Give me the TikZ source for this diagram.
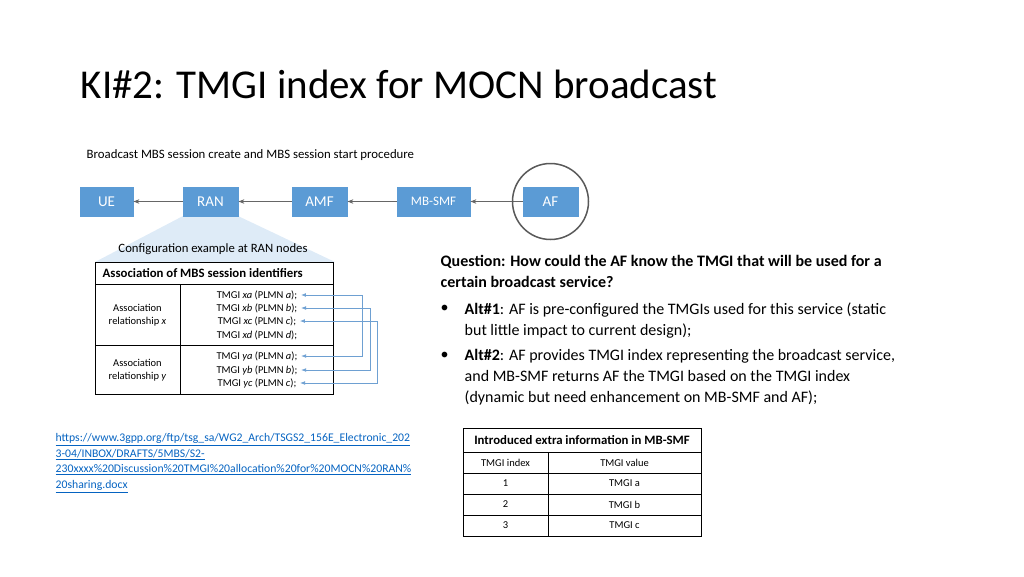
\documentclass[tikz,border=0pt]{standalone}
\usepackage{fontspec}
\setmainfont{Carlito}
\usepackage{tikz}
\usetikzlibrary{positioning,arrows.meta}
\definecolor{boxblue}{RGB}{91,155,213}
\definecolor{lineblue}{RGB}{110,160,210}
\definecolor{fanblue}{RGB}{222,235,247}
\definecolor{linkblue}{RGB}{5,99,193}
\tikzset{every picture/.style={line width=0.75pt},
  nf/.style={draw=boxblue,fill=boxblue,text=white,minimum height=29pt,font=\fontsize{15}{15}\selectfont},
  flow/.style={draw=gray!80!black,line width=1.2pt,-{Stealth[length=6pt]}},
  cell/.style={font=\fontsize{10.5}{12.5}\selectfont,align=center},
  para/.style={anchor=north west,align=left,font=\fontsize{16}{21}\selectfont},
  link/.style={lineblue,line width=0.8pt,-{Latex[length=5pt]}}}
\begin{document}
\begin{tikzpicture}[x=1pt,y=-1pt]
\useasboundingbox (0,0) rectangle (1024,576);
\node[anchor=west,font=\fontsize{41}{41}\selectfont] (title) at (77,84) {KI\#2: TMGI index for MOCN broadcast};
\node[anchor=west,font=\fontsize{12.8}{12.8}\selectfont] (proc) at (83,155) {Broadcast MBS session create and MBS session start procedure};
%
\fill[fanblue] (183,216) -- (238,216) -- (335,262) -- (95,262) -- cycle;
\node[nf,minimum width=53pt] (ue) at (106.5,201.5) {UE};
\node[nf,minimum width=55pt] (ran) at (210.5,201.5) {RAN};
\node[nf,minimum width=55pt] (amf) at (319.5,201.5) {AMF};
\node[nf,minimum width=73pt,font=\fontsize{13}{13}\selectfont] (mbsmf) at (433.5,201.5) {MB-SMF};
\node[nf,minimum width=55pt] (af) at (550.5,201.5) {AF};
\draw[flow] (ran) -- (ue);
\draw[flow] (amf) -- (ran);
\draw[flow] (mbsmf) -- (amf);
\draw[flow] (af) -- (mbsmf);
\draw[gray!70!black,line width=1.5pt] (af) circle (38);
%
\node[font=\fontsize{12.7}{12.7}\selectfont] (conf) at (213,249) {Configuration example at RAN nodes};
\draw[line width=1pt] (95,262) rectangle (333,394);
\draw (95,284) -- (333,284);
\draw (95,345) -- (333,345);
\draw (180,284) -- (180,394);
\node[anchor=west,font=\bfseries\fontsize{12.8}{12.8}\selectfont] (assoc) at (99,273) {Association of MBS session identifiers};
\node[cell] (relx) at (137.5,315) {Association\\relationship \emph{x}};
\node[cell] (rely) at (137.5,370) {Association\\relationship \emph{y}};
\node[cell] (xa) at (257,295) {TMGI \emph{xa} (PLMN \emph{a});};
\node[cell] (xb) at (257,308) {TMGI \emph{xb} (PLMN \emph{b});};
\node[cell] (xc) at (257,321) {TMGI \emph{xc} (PLMN \emph{c});};
\node[cell] (xd) at (257,335) {TMGI \emph{xd} (PLMN \emph{d});};
\node[cell] (ya) at (257,356) {TMGI \emph{ya} (PLMN \emph{a});};
\node[cell] (yb) at (257,370) {TMGI \emph{yb} (PLMN \emph{b});};
\node[cell] (yc) at (257,383) {TMGI \emph{yc} (PLMN \emph{c});};
\draw[link] (362,295) -- (xa.east);
\draw[link] (362,295) |- (ya.east);
\draw[link] (370,308) -- (xb.east);
\draw[link] (370,308) |- (yb.east);
\draw[link] (377,321) -- (xc.east);
\draw[link] (377,321) |- (yc.east);
%
\node[para] (q) at (437,252)
  {\textbf{Question: How could the AF know the TMGI that will be used for a}\\\textbf{certain broadcast service?}};
\node[para] (b1) at (437,301) {•};
\node[para] (alt1) at (461,299)
  {\textbf{Alt\#1}: AF is pre-configured the TMGIs used for this service (static\\but little impact to current design);};
\node[para] (b2) at (437,348) {•};
\node[para] (alt2) at (461,346)
  {\textbf{Alt\#2}: AF provides TMGI index representing the broadcast service,\\and MB-SMF returns AF the TMGI based on the TMGI index\\(dynamic but need enhancement on MB-SMF and AF);};
%
\node[anchor=north west,align=left,text=linkblue,font=\fontsize{11.7}{15.5}\selectfont] (url) at (52,430)
  {\underline{https://www.3gpp.org/ftp/tsg\_sa/WG2\_Arch/TSGS2\_156E\_Electronic\_202}\\
   \underline{3-04/INBOX/DRAFTS/5MBS/S2-}\\
   \underline{230xxxx\%20Discussion\%20TMGI\%20allocation\%20for\%20MOCN\%20RAN\%}\\
   \underline{20sharing.docx}};
%
\draw[line width=1pt] (463,428) rectangle (701,536);
\foreach \yy in {452,473,494,515} \draw (463,\yy) -- (701,\yy);
\draw (548,452) -- (548,536);
\node[font=\bfseries\fontsize{12.8}{12.8}\selectfont] (hdr) at (582,440) {Introduced extra information in MB-SMF};
\node[cell] (hidx) at (505.5,462.5) {TMGI index};
\node[cell] (hval) at (624.5,462.5) {TMGI value};
\foreach \i/\v/\yy in {1/a/483.5,2/b/504.5,3/c/525.5} {
  \node[cell] (idx\i) at (505.5,\yy) {\i};
  \node[cell] (val\i) at (624.5,\yy) {TMGI \v};
}
\end{tikzpicture}
\end{document}
